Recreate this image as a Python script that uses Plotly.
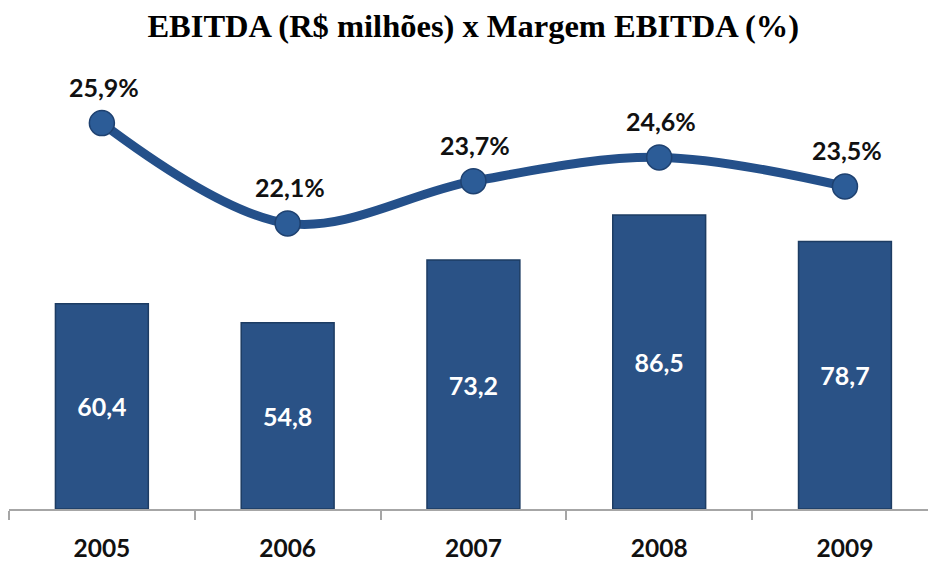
import plotly.graph_objects as go

years = ["2005", "2006", "2007", "2008", "2009"]
ebitda = [60.4, 54.8, 73.2, 86.5, 78.7]
margin_pct = [25.9, 22.1, 23.7, 24.6, 23.5]
ebitda_labels = ["60,4", "54,8", "73,2", "86,5", "78,7"]
margin_labels = ["25,9%", "22,1%", "23,7%", "24,6%", "23,5%"]
title_text = "EBITDA (R$ milhões) x Margem EBITDA (%)"

BAR = "#2A5286"
LINE = "#24508A"
LABEL_FONT = "Lato"

fig = go.Figure()

fig.add_trace(go.Bar(
    x=years, y=ebitda, width=0.5,
    marker=dict(color=BAR, line=dict(color="#1D3C63", width=1.5)),
    text=ebitda_labels, textposition="inside", insidetextanchor="middle",
    textangle=0, constraintext="none",
    textfont=dict(family=LABEL_FONT, size=25, color="white", weight="bold"),
    hoverinfo="skip", showlegend=False, yaxis="y",
))

fig.add_trace(go.Scatter(
    x=years, y=margin_pct, yaxis="y2", mode="lines+markers",
    line=dict(color=LINE, width=9, shape="spline", smoothing=1.0),
    marker=dict(size=25, color="#2C5C97", line=dict(color="#1E4170", width=1.5)),
    hoverinfo="skip", showlegend=False,
))

for i, (v, lab) in enumerate(zip(margin_pct, margin_labels)):
    fig.add_annotation(
        x=i, y=v, xref="x", yref="y2", text=lab, showarrow=False,
        yshift=36, xshift=2,
        font=dict(family=LABEL_FONT, size=25, color="#111111", weight="bold"),
    )

fig.update_layout(
    width=928, height=562,
    margin=dict(l=9, r=0, t=60, b=53),
    paper_bgcolor="white", plot_bgcolor="white",
    title=dict(text="<b>" + title_text + "</b>", x=0.51, xanchor="center",
               y=0.954, yanchor="middle",
               font=dict(family="Liberation Serif", size=32.5, color="black")),
    xaxis=dict(type="category", range=[-0.5, 4.447],
               showline=True, linecolor="#A6A6A6", linewidth=1.5,
               ticks="outside", tickson="boundaries", ticklen=9,
               tickcolor="#A6A6A6", tickwidth=1.5,
               ticklabelstandoff=17,
               tickfont=dict(family=LABEL_FONT, size=24.5, color="#111111", weight="bold"),
               showgrid=False, zeroline=False, fixedrange=True),
    yaxis=dict(range=[0, 132.06], visible=False, showgrid=False, zeroline=False),
    yaxis2=dict(range=[11.28, 28.29], overlaying="y", visible=False,
                showgrid=False, zeroline=False),
    bargap=0.5,
)

fig.write_html("out.html", config={"displayModeBar": False},
               post_script="document.body.style.margin='0';")
